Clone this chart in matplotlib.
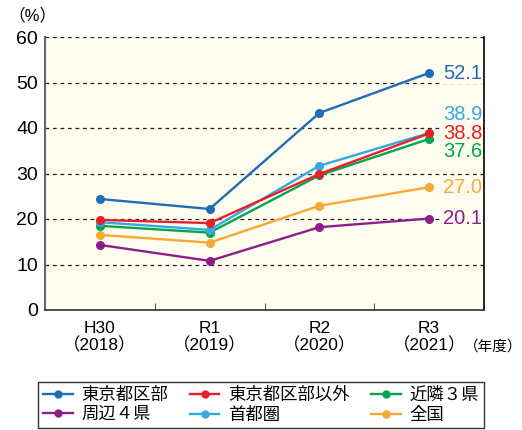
import matplotlib.pyplot as plt
from matplotlib.lines import Line2D

plt.rcParams['font.family'] = ['Liberation Sans', 'Noto Sans CJK JP', 'DejaVu Sans']

# data
years = ["H30\n（2018）", "R1\n（2019）", "R2\n（2020）", "R3\n（2021）"]
names = ["東京都区部", "東京都区部以外", "近隣３県", "周辺４県", "首都圏", "全国"]
colors = ["#1f6db5", "#e8202a", "#00a650", "#8e1e8a", "#36a9e1", "#f7a935"]
tokyo_ku = [24.4, 22.2, 43.3, 52.1]
tokyo_other = [19.8, 19.1, 29.9, 38.8]
kinrin3 = [18.5, 17.0, 29.6, 37.6]
shuhen4 = [14.3, 10.8, 18.2, 20.1]
shutoken = [19.3, 17.6, 31.7, 38.9]
zenkoku = [16.5, 14.8, 22.9, 27.0]
series = [tokyo_ku, tokyo_other, kinrin3, shuhen4, shutoken, zenkoku]

bg = "#fefcef"
fig = plt.figure(figsize=(5.22, 4.30), dpi=100)
ax = fig.add_axes([45/522, 1 - 310/430, 439/522, 273/430])
ax.set_facecolor(bg)

x = list(range(len(years)))
# draw order: back to front
order = [3, 5, 2, 4, 1, 0]
for i in order:
    ax.plot(x, series[i], color=colors[i], lw=1.7, marker="o", ms=5.5, zorder=3)

# value labels at R3 (nudged apart so they don't collide)
lab_pos = {0: 51.9, 4: 42.9, 1: 38.9, 2: 34.9, 5: 27.0, 3: 20.1}
for i, yv in lab_pos.items():
    ax.text(3.13, yv, f"{series[i][-1]:.1f}", color=colors[i], fontsize=14.5,
            va="center", ha="left", zorder=2,
            bbox=dict(facecolor=bg, edgecolor="none", pad=0.5))

ax.set_xlim(-0.5, 3.5)
ax.set_ylim(0, 60)
ax.set_yticks(range(0, 61, 10))
ax.set_xticks(x)
ax.set_xticklabels(years, fontsize=12.5, linespacing=1.05)
ax.tick_params(axis="y", labelsize=14, length=0, pad=5)
ax.tick_params(axis="x", length=0, pad=8)
ax.set_xticks([0.5, 1.5, 2.5], minor=True)
ax.tick_params(axis="x", which="minor", direction="in", length=5, color="#333333")

for yv in range(10, 61, 10):
    ax.axhline(yv, color="#222222", lw=0.9, ls=(0, (3, 3)), zorder=1)

ax.spines["top"].set_visible(False)
ax.spines["right"].set_color("black")
ax.spines["right"].set_linewidth(1.2)
ax.spines["left"].set_color("#666666")
ax.spines["left"].set_linewidth(1.5)
ax.spines["bottom"].set_color("#333333")
ax.spines["bottom"].set_linewidth(1.2)

fig.text(8/522, 1 - 15/430, "（%）", fontsize=12, va="center", ha="left")
fig.text(522/522, 1 - 347/430, "（年度）", fontsize=10.5, va="center", ha="right")

handles = [Line2D([0], [0], color=c, lw=1.7, marker="o", ms=5) for c in colors]
# legend rows: row1 = 東京都区部, 東京都区部以外, 近隣３県; row2 = 周辺４県, 首都圏, 全国
leg_order = [0, 3, 1, 4, 2, 5]
leg = fig.legend([handles[i] for i in leg_order], [names[i] for i in leg_order],
                 ncol=3, loc="lower left", bbox_to_anchor=(38/522, 2/430, 446/522, 56/430),
                 mode="expand", fontsize=12.5, frameon=True, fancybox=False,
                 handlelength=1.7, handletextpad=0.5, borderpad=0.3,
                 labelspacing=0.2, columnspacing=0.6, borderaxespad=0)
leg.get_frame().set_edgecolor("black")
leg.get_frame().set_linewidth(1.0)

fig.savefig("out.png", dpi=100)
